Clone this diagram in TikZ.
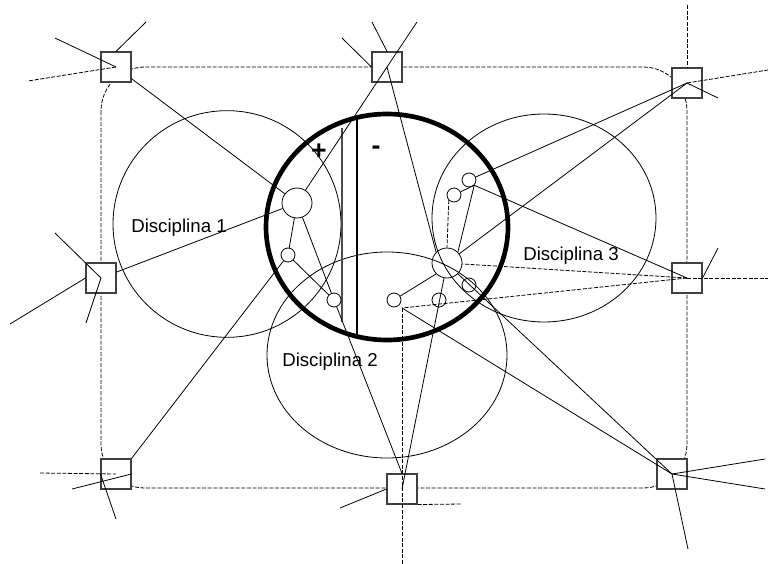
\documentclass[tikz,border=0pt]{standalone}
\usepackage{fontspec}
\setmainfont{Liberation Sans}
\usetikzlibrary{shapes.geometric}

\begin{document}
\begin{tikzpicture}[
  x=0.75pt, y=-0.75pt,
  font=\fontsize{14}{16}\selectfont,
  sq/.style   = {rectangle, draw=black!75, fill=white, line width=0.8pt,
                 minimum size=22.5pt, inner sep=0pt},
  disc/.style = {ellipse, draw, line width=0.6pt, inner sep=0pt},
  hub/.style  = {circle, draw, line width=0.6pt, minimum size=22.5pt, inner sep=0pt},
  ring/.style = {circle, draw, line width=0.6pt, minimum size=10.5pt, inner sep=0pt},
  ln/.style   = {line width=0.6pt},
  dl/.style   = {line width=0.6pt, dash pattern=on 3pt off 1.2pt},
  lab/.style  = {inner sep=0pt},
  sgn/.style  = {font=\fontsize{20}{20}\selectfont\bfseries, inner sep=0pt}
]
\useasboundingbox (0,0) rectangle (768,564);

% --- Frame and discipline areas ----------------------------------------------
\draw[dl, rounded corners=33pt] (101,67) rectangle (687,488);
\node[disc, minimum width=171pt, minimum height=170pt]   (d1) at (227,224) {};
\node[disc, minimum width=180pt, minimum height=154.5pt] (d2) at (387,355) {};
\node[disc, minimum width=168pt, minimum height=156pt]   (d3) at (544,218) {};
\node[lab] (t1) at (179,228) {Disciplina 1};
\node[lab] (t2) at (330,362) {Disciplina 2};
\node[lab] (t3) at (571,256) {Disciplina 3};

% --- Central zone ------------------------------------------------------------
\node[ellipse, draw, line width=3.5pt, minimum width=181.5pt, minimum height=169.5pt,
      inner sep=0pt] (core) at (387,227) {};
\draw[line width=0.8pt, black!70] (342,128) -- (342,322);
\draw[line width=0.8pt] (357,116) -- (357,338);
\node[sgn] (plus)  at (319,152) {+};
\node[sgn] (minus) at (376,150) {-};

% --- Circles -----------------------------------------------------------------
\node[hub]  (ca) at (297,203) {};
\node[ring] (cb) at (288,255) {};
\node[ring] (cc) at (334,300) {};
\node[ring] (cd) at (394,300) {};
\node[ring] (ce) at (469,180) {};
\node[ring] (cf) at (454,195) {};
\node[hub]  (cg) at (447,263) {};
\node[ring] (ch) at (469,285) {};
\node[ring] (ci) at (439,300) {};

% --- Squares -----------------------------------------------------------------
\node[sq] (s1) at (116,67)  {};
\node[sq] (s2) at (387,67)  {};
\node[sq] (s3) at (687,83)  {};
\node[sq] (s4) at (101,278) {};
\node[sq] (s5) at (687,278) {};
\node[sq] (s6) at (116,474) {};
\node[sq] (s7) at (402,489) {};
\node[sq] (s8) at (672,474) {};

% --- Free ends ---------------------------------------------------------------
\coordinate (e1a) at (55,38);   \coordinate (e1b) at (28,81);   \coordinate (e1c) at (146,22);
\coordinate (e2a) at (342,38);  \coordinate (e2b) at (372,22);  \coordinate (e2c) at (417,22);
\coordinate (e3a) at (687,5);   \coordinate (e3b) at (768,70);  \coordinate (e3c) at (718,98);
\coordinate (e4a) at (55,233);  \coordinate (e4b) at (86,323);  \coordinate (e4c) at (10,324);
\coordinate (e5a) at (768,278); \coordinate (e5b) at (718,248);
\coordinate (e6a) at (40,473);  \coordinate (e6b) at (72,489);  \coordinate (e6c) at (116,519);
\coordinate (e7a) at (402,564); \coordinate (e7b) at (340,508); \coordinate (e7c) at (462,504);
\coordinate (e8a) at (765,459); \coordinate (e8b) at (765,489); \coordinate (e8c) at (688,549);
\coordinate (jd)  at (402,308);

% --- Links -------------------------------------------------------------------
\draw[ln] (e1a) -- (s1.center);
\draw[dl] (s1.center) -- (e1b);
\draw[ln] (s1.north) -- (e1c);
\draw[ln] (s1) -- (ca);

\draw[ln] (e2a) -- (s2.west);
\draw[ln] (e2b) -- (s2.north);
\draw[ln] (e2c) -- (s2.center);
\draw[ln] (s2.center) -- (ca);
\draw[ln] (s2.center) -- (cg.north west);

\draw[dl] (e3a) -- (s3.north);
\draw[dl] (s3.center) -- (e3b);
\draw[ln] (s3.center) -- (e3c);
\draw[ln] (s3.center) -- (ce);
\draw[ln] (s3.center) -- (cg);

\draw[ln] (e4a) -- (s4.center);
\draw[ln] (s4.center) -- (e4b);
\draw[ln] (s4.west) -- (e4c);
\draw[ln] (s4) -- (ca);

\draw[dl] (s5.center) -- (e5a);
\draw[ln] (s5.east) -- (e5b);
\draw[ln] (s5.center) -- (ce.south east);
\draw[ln] (ce.south east) -- (cf);
\draw[ln] (ce.south east) -- (cg.north east);
\draw[dl] (s5.center) -- (cg);
\draw[dl] (s5.center) -- (jd);

\draw[dl] (e6a) -- (s6.center);
\draw[ln] (e6b) -- (s6.east);
\draw[ln] (s6.west) -- (e6c);
\draw[ln] (s6.north east) -- (cb);

\draw[dl] (jd) -- (e7a);
\draw[ln] (e7b) -- (s7.west);
\draw[dl] (s7.south east) -- (e7c);
\draw[ln] (cc) -- (s7.north);
\draw[ln] (s7.center) -- (cg);

\draw[ln] (jd) -- (s8.center);
\draw[ln] (cg.south east) -- (s8.center);
\draw[ln] (s8.center) -- (e8a);
\draw[ln] (s8.center) -- (e8b);
\draw[ln] (s8.center) -- (e8c);

\draw[ln] (ca) -- (cb);
\draw[ln] (ca) -- (cc);
\draw[ln] (cb) -- (cc);
\draw[ln] (cd) -- (cg.south west);
\draw[dl] (cf.south west) -- (cg.north);

\end{tikzpicture}
\end{document}
